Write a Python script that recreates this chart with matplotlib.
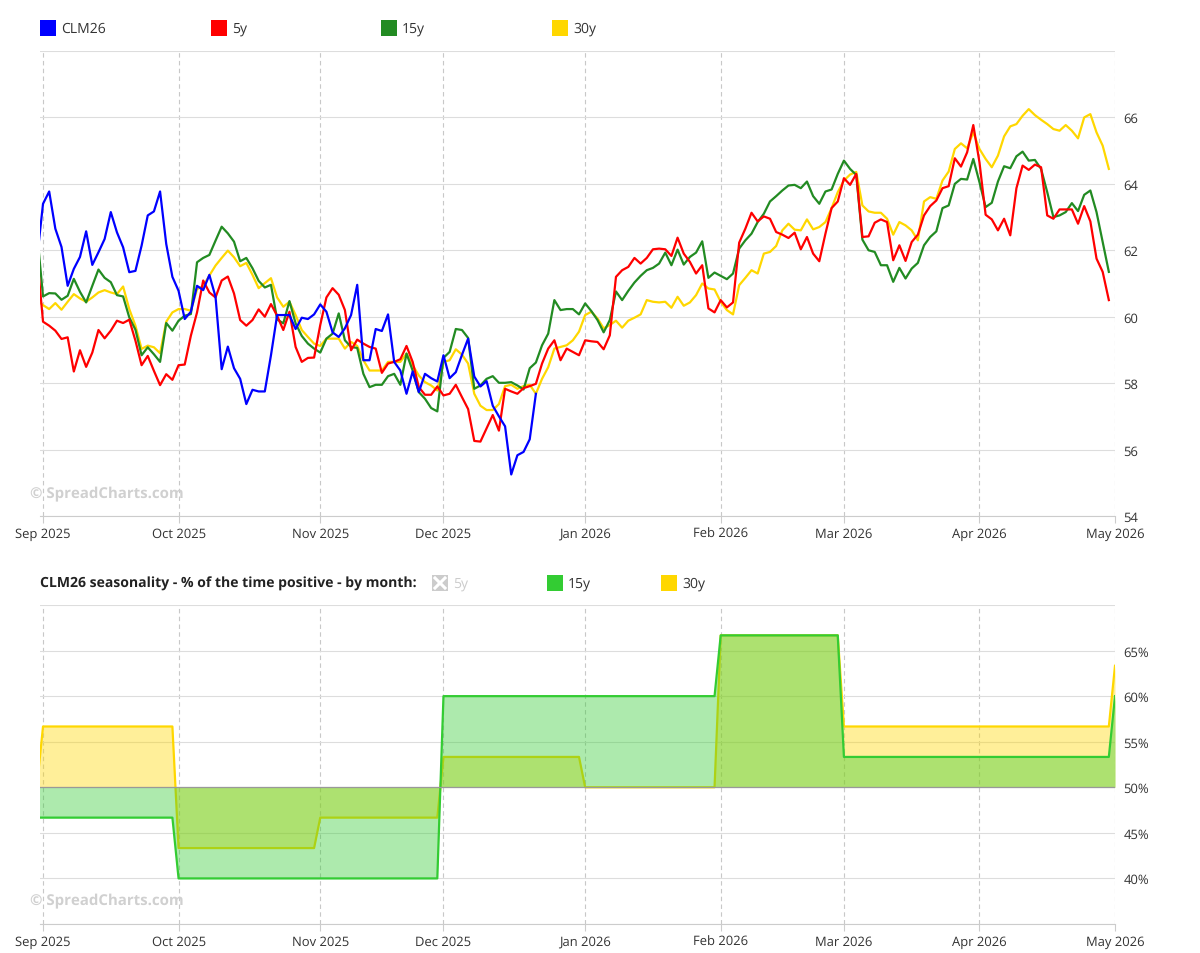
import numpy as np
import pandas as pd
import matplotlib
matplotlib.use('Agg')
import matplotlib.pyplot as plt
from matplotlib.patches import Rectangle
from matplotlib.lines import Line2D

# daily closes on weekdays, first value is Fri 2025-08-29
clm26 = [61.7, 63.4, 63.77, 62.65, 62.1, 60.93, 61.44, 61.8, 62.57, 61.56, 61.94, 62.34, 63.15, 62.54, 62.09,
         61.34, 61.38, 62.14, 63.05, 63.17, 63.77, 62.19, 61.2, 60.78, 59.93, 60.15, 60.93, 60.8, 61.26, 60.6,
         58.42, 59.1, 58.45, 58.13, 57.37, 57.8, 57.75, 57.75, 58.84, 60.05, 60.05, 60.05, 59.63, 59.97, 59.93,
         60.07, 60.37, 60.15, 59.53, 59.39, 59.65, 60.05, 60.96, 58.69, 58.69, 59.63, 59.57, 60.07, 58.64, 58.38,
         57.68, 58.35, 57.73, 58.28, 58.15, 58.05, 58.84, 58.15, 58.33, 58.85, 59.34, 58.2, 57.9, 58.06, 57.32,
         57.0, 56.7, 55.25, 55.83, 55.93, 56.31, 57.68]

y5 = [61.9, 59.85, 59.73, 59.58, 59.33, 59.38, 58.35, 58.99, 58.49, 58.92, 59.6, 59.35, 59.58, 59.88, 59.81,
      59.91, 59.28, 58.54, 58.82, 58.37, 57.94, 58.27, 58.1, 58.54, 58.56, 59.43, 60.13, 61.09, 60.73, 60.58,
      61.09, 61.21, 60.7, 59.9, 59.73, 59.9, 60.22, 60.0, 60.38, 60.03, 59.6, 60.15, 59.09, 58.64, 58.76,
      58.77, 59.75, 60.58, 60.86, 60.66, 60.2, 58.99, 59.31, 59.19, 59.09, 59.04, 58.31, 58.59, 58.64, 58.72,
      59.12, 58.64, 57.88, 57.65, 57.65, 57.9, 57.63, 57.68, 57.95, 57.58, 57.22, 56.26, 56.24, 56.64, 57.04,
      56.57, 57.83, 57.75, 57.68, 57.85, 57.91, 57.98, 58.59, 59.04, 59.29, 58.69, 59.04, 58.94, 58.84, 59.29,
      59.26, 59.24, 59.02, 59.44, 61.2, 61.4, 61.5, 61.77, 61.6, 61.77, 62.03, 62.05, 62.03, 61.83, 62.38,
      61.9, 61.65, 61.3, 61.55, 60.25, 60.13, 60.5, 60.28, 60.43, 62.23, 62.65, 63.13, 62.87, 63.02, 62.95,
      62.55, 62.47, 62.37, 62.53, 62.03, 62.4, 61.9, 61.67, 62.5, 63.27, 63.47, 64.17, 63.97, 64.3, 62.4,
      62.42, 62.83, 62.93, 62.85, 61.7, 62.15, 61.68, 62.25, 62.47, 63.05, 63.33, 63.5, 63.87, 63.93, 64.77,
      64.52, 64.95, 65.77, 64.65, 63.07, 62.93, 62.6, 62.95, 62.45, 63.87, 64.55, 64.42, 64.58, 64.5, 63.05,
      62.95, 63.23, 63.23, 63.23, 62.8, 63.33, 62.87, 61.75, 61.35, 60.5]

y15 = [62.6, 60.61, 60.71, 60.7, 60.51, 60.63, 61.14, 60.75, 60.43, 60.93, 61.42, 61.17, 61.04, 60.65, 60.61,
       59.98, 59.61, 58.84, 59.08, 58.87, 58.64, 59.81, 59.58, 59.88, 60.03, 60.08, 61.64, 61.77, 61.86, 62.29,
       62.71, 62.51, 62.26, 61.67, 61.77, 61.46, 61.08, 60.88, 60.96, 59.92, 59.8, 60.47, 59.8, 59.42, 59.19,
       59.04, 58.92, 59.34, 59.49, 60.1, 59.29, 59.09, 59.06, 58.28, 57.88, 57.95, 57.95, 58.21, 58.28, 57.95,
       58.89, 58.38, 57.73, 57.53, 57.25, 57.15, 58.76, 58.94, 59.63, 59.6, 59.36, 57.83, 57.93, 58.13, 58.21,
       58.01, 58.01, 58.03, 57.93, 57.81, 58.45, 58.62, 59.14, 59.49, 60.5, 60.2, 60.23, 60.23, 60.07, 60.4,
       60.17, 59.9, 59.53, 59.9, 60.76, 60.5, 60.78, 61.03, 61.23, 61.4, 61.47, 61.6, 61.93, 61.55, 62.02,
       61.57, 61.8, 61.93, 62.27, 61.17, 61.33, 61.23, 61.13, 61.3, 62.05, 62.3, 62.5, 62.85, 63.1, 63.47,
       63.63, 63.8, 63.95, 63.97, 63.87, 64.07, 63.63, 63.4, 63.77, 63.83, 64.3, 64.7, 64.45, 64.27, 62.32,
       62.0, 61.95, 61.55, 61.55, 61.05, 61.47, 61.15, 61.45, 61.62, 62.15, 62.4, 62.57, 63.27, 63.35, 64.0,
       64.15, 64.13, 64.75, 64.05, 63.3, 63.43, 64.07, 64.53, 64.47, 64.83, 64.97, 64.7, 64.72, 64.45, 63.75,
       63.0, 63.05, 63.15, 63.42, 63.18, 63.67, 63.8, 63.15, 62.25, 61.35]

y30 = [60.5, 60.35, 60.23, 60.41, 60.21, 60.45, 60.68, 60.55, 60.45, 60.58, 60.73, 60.8, 60.73, 60.68, 60.91,
       60.23, 59.73, 59.03, 59.13, 59.08, 58.9, 59.85, 60.13, 60.23, 60.23, 60.18, 60.83, 60.93, 61.24, 61.54,
       61.77, 61.99, 61.79, 61.52, 61.62, 61.26, 60.86, 61.01, 61.16, 60.58, 60.3, 60.45, 60.05, 59.6, 59.39,
       59.19, 59.12, 59.34, 59.34, 59.34, 59.04, 59.24, 59.12, 58.69, 58.38, 58.38, 58.38, 58.64, 58.64, 58.64,
       58.89, 58.54, 58.23, 58.03, 57.93, 57.78, 58.64, 58.69, 59.02, 58.86, 58.59, 57.68, 57.32, 57.19, 57.19,
       57.37, 57.91, 57.95, 57.83, 57.91, 57.95, 57.68, 58.13, 58.48, 59.04, 59.09, 59.14, 59.29, 59.55, 60.05,
       60.15, 59.95, 59.65, 59.75, 59.88, 59.67, 59.88, 59.97, 60.07, 60.5, 60.45, 60.43, 60.45, 60.27, 60.6,
       60.33, 60.43, 60.65, 61.0, 60.85, 60.82, 60.45, 60.2, 60.07, 60.95, 61.17, 61.4, 61.3, 61.9, 61.95,
       62.13, 62.6, 62.8, 62.62, 62.6, 62.93, 62.63, 62.7, 62.85, 63.27, 63.75, 64.1, 64.28, 64.36, 63.35,
       63.17, 63.13, 63.13, 62.95, 62.47, 62.85, 62.75, 62.6, 62.3, 63.47, 63.6, 63.55, 64.1, 64.37, 65.05,
       65.22, 65.07, 65.55, 65.05, 64.75, 64.5, 64.85, 65.43, 65.73, 65.8, 66.05, 66.25, 66.07, 65.93, 65.8,
       65.65, 65.6, 65.77, 65.6, 65.37, 66.0, 66.1, 65.55, 65.15, 64.45]

# seasonality: % of years positive, by month
season_months = ['2025-08', '2025-09', '2025-10', '2025-11', '2025-12',
                 '2026-01', '2026-02', '2026-03', '2026-04', '2026-05']
pos15 = [46.67, 46.67, 40.0, 40.0, 60.0, 60.0, 66.67, 53.33, 53.33, 60.0]
pos30 = [50.0, 56.67, 43.33, 46.67, 53.33, 50.0, 66.67, 56.67, 56.67, 63.33]

top_ticks = [54, 56, 58, 60, 62, 64, 66, 68]
bot_ticks = [35, 40, 45, 50, 55, 60, 65, 70]

W, H = 1200, 954
plt.rcParams['font.family'] = 'Open Sans'
plt.rcParams['text.hinting'] = 'no_hinting'
plt.rcParams['text.hinting_factor'] = 1
fig = plt.figure(figsize=(12, 9.54), dpi=100)


def fx(x):
    return x / W


def fy(y):
    return 1 - y / H


dates = pd.bdate_range('2025-08-29', '2026-05-01')
pos = np.arange(len(dates)) - 1
starts = [i for i in range(1, len(dates)) if dates[i].month != dates[i - 1].month]
tick_pos = pos[starts]
tick_lab = [dates[i].strftime('%b %Y') for i in starts]

ax1 = fig.add_axes([fx(40), fy(517), (1115 - 40) / W, (517 - 52) / H])
ax2 = fig.add_axes([fx(40), fy(925), (1115 - 40) / W, (925 - 606) / H])

for ax, hpx in ((ax1, 465), (ax2, 319)):
    ax.set_xlim(-0.49, 174)
    for t in tick_pos:
        ax.axvline(t, color='#c8c8c8', lw=0.8, ls=(0, (4, 3)), zorder=0)
    ax.set_xticks(tick_pos)
    ax.set_xticklabels([])
    # month labels drawn as text so all share one baseline
    for t, lab in zip(tick_pos, tick_lab):
        ax.text(t, -21 / hpx, lab, transform=ax.get_xaxis_transform(), ha='center', va='baseline',
                fontsize=9.5, color='#333333')
    ax.yaxis.tick_right()
    ax.grid(axis='y', color='#dddddd', lw=0.8, zorder=0)
    for s in ('top', 'left', 'right'):
        ax.spines[s].set_visible(False)
    ax.spines['bottom'].set_color('#cccccc')
    ax.spines['bottom'].set_linewidth(0.8)
    ax.tick_params(axis='x', length=5, color='#cccccc')
    ax.tick_params(axis='y', length=0, labelsize=9.5, labelcolor='#333333', pad=6)

# top chart
ax1.set_ylim(54, 68)
ax1.set_yticks(top_ticks)
ax1.set_yticklabels([str(t) if t != 68 else '' for t in top_ticks])
ax1.plot(pos[:len(y30)], y30, color='#ffd700', lw=1.6, zorder=2)
ax1.plot(pos[:len(y15)], y15, color='#228b22', lw=1.6, zorder=3)
ax1.plot(pos[:len(y5)], y5, color='#ff0000', lw=1.6, zorder=4)
ax1.plot(pos[:len(clm26)], clm26, color='#0000ff', lw=1.6, zorder=5)

# bottom chart
lookup15 = dict(zip(season_months, pos15))
lookup30 = dict(zip(season_months, pos30))
mkeys = dates.strftime('%Y-%m')
s15 = np.array([lookup15[m] for m in mkeys])
s30 = np.array([lookup30[m] for m in mkeys])

ax2.set_ylim(35, 70)
ax2.set_yticks(bot_ticks)
ax2.set_yticklabels(['' if t in (35, 70) else f'{t}%' for t in bot_ticks])
ax2.fill_between(pos, 50, s30, color='#ffd700', alpha=0.4, lw=0, zorder=2)
ax2.plot(pos, s30, color='#ffd700', lw=1.6, zorder=2)
ax2.fill_between(pos, 50, s15, color='#33cc33', alpha=0.4, lw=0, zorder=3)
ax2.plot(pos, s15, color='#33cc33', lw=1.6, zorder=3)
ax2.axhline(50, color='#999999', lw=0.9, zorder=4)

# watermarks
for yy in (494, 902):
    fig.text(fx(30), fy(yy), '\u00a9 SpreadCharts.com', fontsize=10.5, fontweight='bold',
             color='#d0d0d0', va='center', ha='left')

# top legend
for xx, col, lab in [(40, '#0000ff', 'CLM26'), (211, '#ff0000', '5y'),
                     (381, '#228b22', '15y'), (552, '#ffd700', '30y')]:
    fig.add_artist(Rectangle((fx(xx), fy(37)), 16 / W, 16 / H, transform=fig.transFigure,
                             facecolor=col, edgecolor='none'))
    fig.text(fx(xx + 21), fy(29), lab, fontsize=10, color='#333333', va='center', ha='left')

# bottom legend
fig.text(fx(40), fy(584), 'CLM26 seasonality - % of the time positive - by month:',
         fontsize=10, fontweight='bold', color='#222222', va='center', ha='left')
fig.add_artist(Rectangle((fx(432), fy(592)), 16 / W, 16 / H, transform=fig.transFigure,
                         facecolor='#cccccc', edgecolor='none'))
fig.add_artist(Line2D([fx(435), fx(445)], [fy(579), fy(589)], transform=fig.transFigure,
                      color='white', lw=2.2))
fig.add_artist(Line2D([fx(435), fx(445)], [fy(589), fy(579)], transform=fig.transFigure,
                      color='white', lw=2.2))
fig.text(fx(453), fy(584), '5y', fontsize=10, color='#cccccc', va='center', ha='left')
for xx, col, lab in [(547, '#33cc33', '15y'), (661, '#ffd700', '30y')]:
    fig.add_artist(Rectangle((fx(xx), fy(592)), 16 / W, 16 / H, transform=fig.transFigure,
                             facecolor=col, edgecolor='none'))
    fig.text(fx(xx + 21), fy(584), lab, fontsize=10, color='#333333', va='center', ha='left')

fig.savefig('out.png', dpi=100)
